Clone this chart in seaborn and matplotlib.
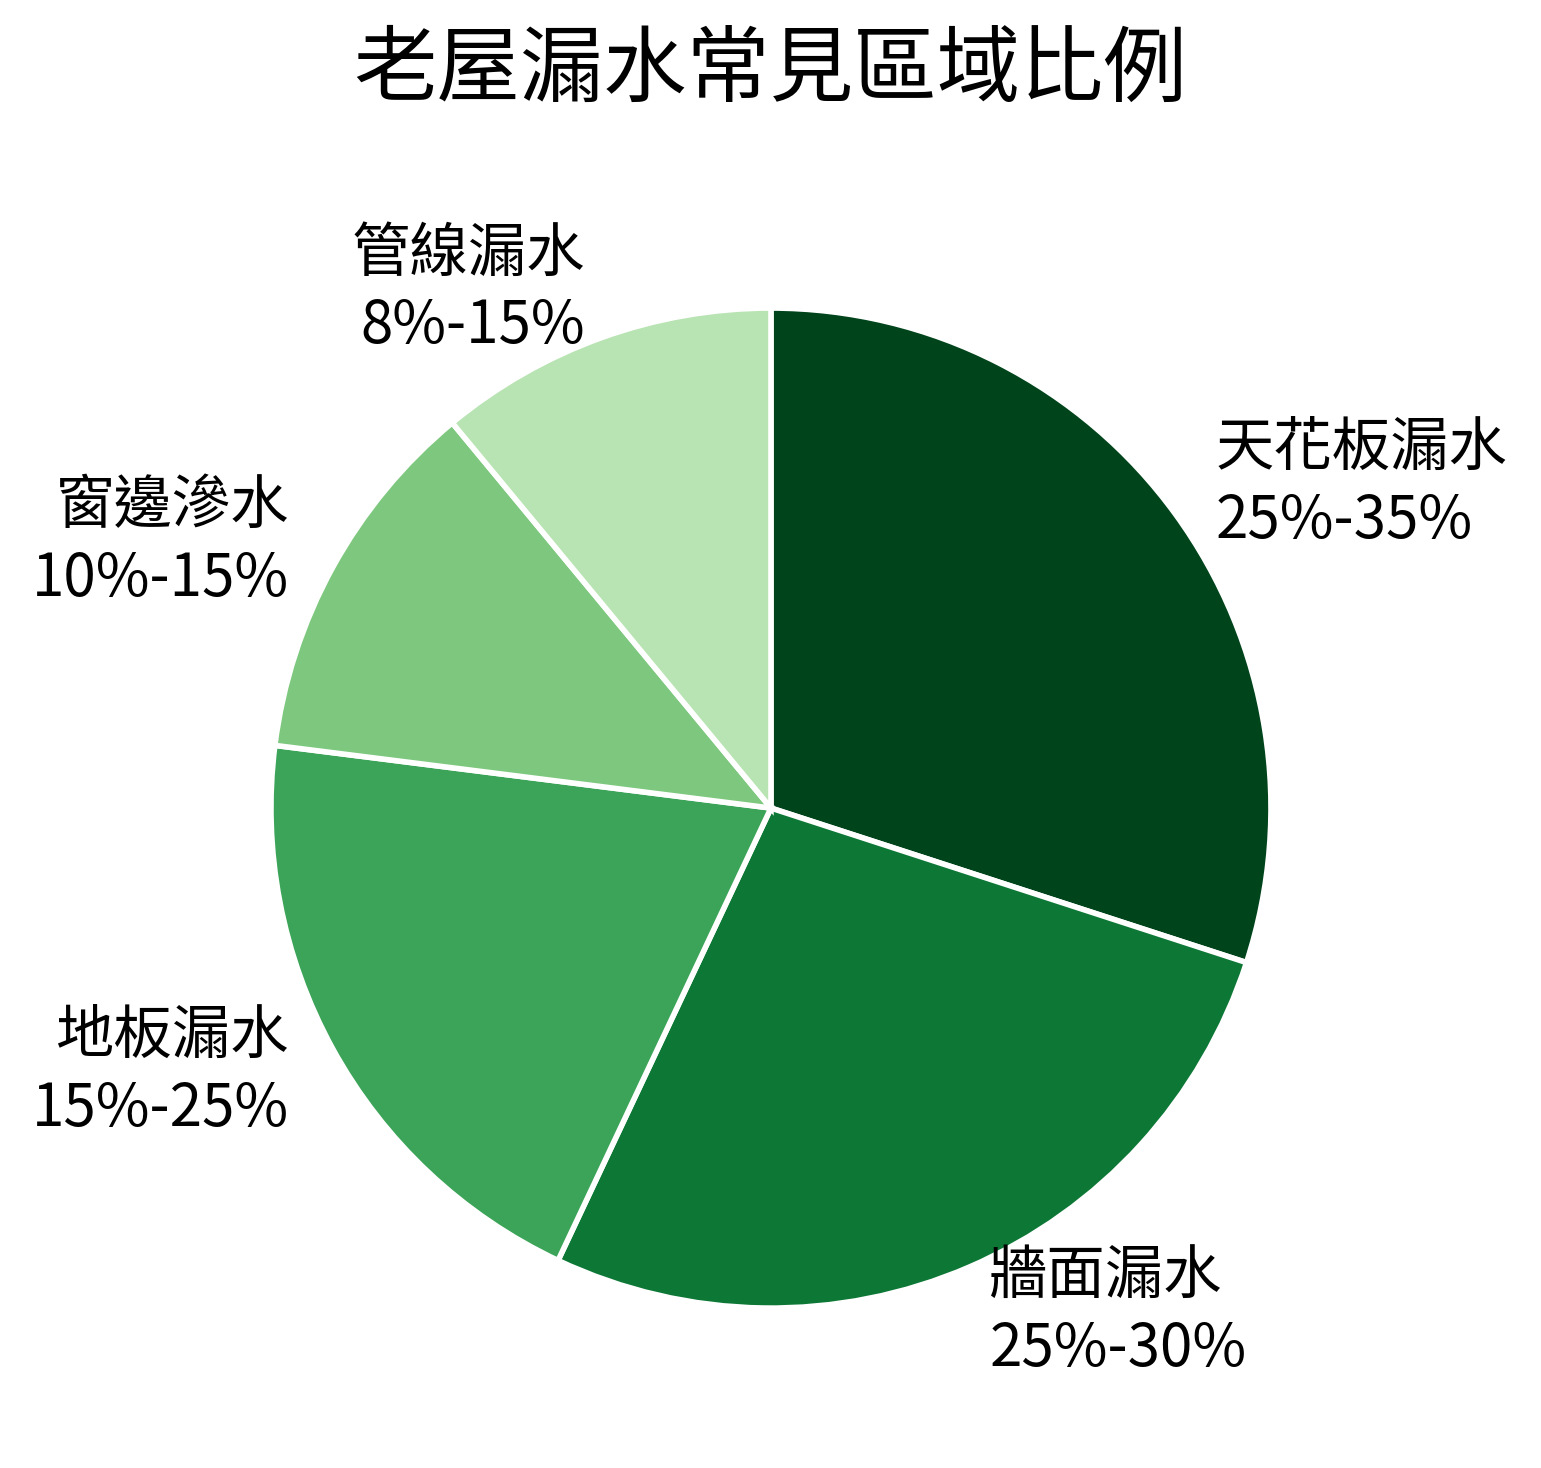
import numpy as np
import matplotlib
matplotlib.use('Agg')
import matplotlib.pyplot as plt
import seaborn as sns

sns.set_theme(style="white")
plt.rcParams['font.family'] = ['Noto Sans CJK TC', 'DejaVu Sans']

# data (clockwise from 12 o'clock)
areas = ['天花板漏水', '牆面漏水', '地板漏水', '窗邊滲水', '管線漏水']
ranges = ['25%-35%', '25%-30%', '15%-25%', '10%-15%', '8%-15%']
shares = [30, 27, 20, 12, 11]

colors = plt.cm.Greens(np.linspace(0.3, 1.0, len(areas)))[::-1]
labels = [f'{a}\n{r}' for a, r in zip(areas, ranges)]

fig = plt.figure(figsize=(7.705, 7.34), dpi=200)
ax = fig.add_axes([0.0947, 0.0238, 0.8112, 0.8515])
wedges, texts = ax.pie(shares, labels=labels, colors=colors, startangle=90,
                       counterclock=False, labeldistance=1.1,
                       wedgeprops={'edgecolor': 'white', 'linewidth': 2.0},
                       textprops={'fontsize': 21, 'color': 'black'})
for t in texts:
    t.set_linespacing(1.25)
ax.set_aspect('equal')
fig.suptitle('老屋漏水常見區域比例', fontsize=30, color='black', y=0.952, va='center')
fig.savefig('out.png', dpi=200)
